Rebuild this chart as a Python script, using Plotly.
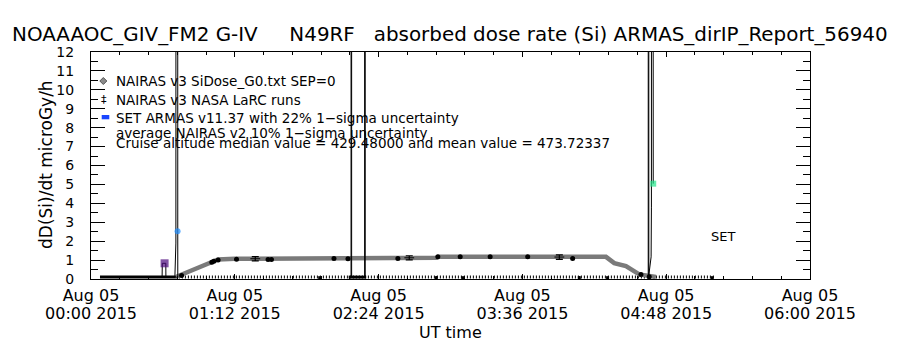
import plotly.graph_objects as go

# ---------------- data (x = minutes after 2015-08-05 00:00 UT) ----------------
x_tickvals = [0, 72, 144, 216, 288, 360]
x_date_labels = ["Aug 05", "Aug 05", "Aug 05", "Aug 05", "Aug 05", "Aug 05"]
x_time_labels = ["00:00 2015", "01:12 2015", "02:24 2015", "03:36 2015", "04:48 2015", "06:00 2015"]

# NAIRAS v3 SiDose_G0.txt SEP=0 (dense diamond band)
nairas_t = [42.75, 57.85, 63.65, 72.0, 119.5, 121.5, 128.0, 129.0, 153.0, 154.0, 173.0, 174.0,
            257.85, 262.0, 267.85, 274.5, 282.85]
nairas_v = [0.12, 0.76, 1.03, 1.07, 1.07, 1.12, 1.12, 1.07, 1.07, 1.12, 1.12, 1.17,
            1.17, 0.84, 0.68, 0.24, 0.11]

# NAIRAS v3 NASA LaRC runs (black points)
larc_t = [45.35, 60.5, 61.5, 63.65, 72.85, 88.65, 90.35, 121.65, 128.65, 153.65, 173.65,
          184.85, 199.85, 218.65, 241.15, 275.35, 279.5]
larc_v = [0.18, 0.88, 0.94, 1.0, 1.04, 1.03, 1.03, 1.08, 1.07, 1.08, 1.17,
          1.17, 1.17, 1.17, 1.08, 0.24, 0.12]

# average NAIRAS v2 with 10% 1-sigma uncertainty
avg_t = [82.25, 159.35, 234.5]
avg_v = [1.07, 1.12, 1.16]
avg_err = [0.11, 0.11, 0.12]

# near-zero record along the bottom
ground_t = [4.5, 42.5]
ground_v = [0.1, 0.1]
low_t = [42.5, 312.0]
low_v = [0.11, 0.11]
low_pts_t = [114.5, 172.85, 186.15, 244.5, 258.65, 311.0]
low_pts_v = [0.07, 0.07, 0.07, 0.07, 0.07, 0.07]
base_t = [129.0, 137.8]
base_v = [0.1, 0.1]

# SET ARMAS v11.37 (line, off-scale excursions)
armas_t = [35.6, 35.7, 37.45, 37.5, None,
           42.0, 42.05, 42.5, 43.05, 43.35, 43.45, None,
           130.2, 130.35, 130.5, None,
           137.0, 137.15, 137.3, None,
           279.0, 279.15, 279.3, 280.45, 280.6, 281.1, 281.5]
armas_v = [0.1, 0.83, 0.83, 0.1, None,
           0.1, 0.6, 1.9, 300, 2.52, 0.1, None,
           0.1, 300, 0.1, None,
           0.1, 300, 0.1, None,
           0.15, 300, 0.2, 1.17, 3.8, 300, 5.04]
armas_pt_t = [36.85, 43.35, 281.5]
armas_pt_v = [0.83, 2.52, 5.04]
armas_pt_color = ["#4b0a7d", "#1f8fff", "#22e58a"]
armas_pt_symbol = ["square", "circle", "square"]
armas_pt_size = [8, 6, 6]

FONT = "DejaVu Sans"

fig = go.Figure()

fig.add_trace(go.Scatter(x=ground_t, y=ground_v, mode="lines",
                         line=dict(color="black", width=3), hoverinfo="skip"))
fig.add_trace(go.Scatter(x=low_t, y=low_v, mode="lines",
                         line=dict(color="black", width=3, dash="1px,2px"), hoverinfo="skip"))
fig.add_trace(go.Scatter(x=base_t, y=base_v, mode="lines",
                         line=dict(color="black", width=3), hoverinfo="skip"))
fig.add_trace(go.Scatter(x=low_pts_t, y=low_pts_v, mode="markers",
                         marker=dict(color="black", size=3, symbol="square"), hoverinfo="skip"))

fig.add_trace(go.Scatter(x=nairas_t, y=nairas_v, mode="lines",
                         line=dict(color="#7a7a7a", width=4.5), name="NAIRAS v3 SiDose_G0"))
fig.add_trace(go.Scatter(x=larc_t, y=larc_v, mode="markers",
                         marker=dict(color="black", size=5, symbol="circle"), name="NAIRAS v3 NASA LaRC"))
fig.add_trace(go.Scatter(x=avg_t, y=avg_v, mode="markers",
                         marker=dict(color="black", size=7, symbol="line-ew",
                                     line=dict(color="black", width=1)),
                         error_y=dict(type="data", array=avg_err, visible=True,
                                      color="black", thickness=1.2, width=3.5),
                         name="average NAIRAS v2"))

fig.add_trace(go.Scatter(x=armas_t, y=armas_v, mode="lines",
                         line=dict(color="black", width=1), connectgaps=False, name="SET ARMAS"))
fig.add_trace(go.Scatter(x=armas_pt_t, y=armas_pt_v, mode="markers",
                         marker=dict(color=armas_pt_color, symbol=armas_pt_symbol,
                                     size=armas_pt_size, line=dict(width=0)),
                         name="SET ARMAS points"))

L, R, T, B = 91, 90, 52, 71
W, H = 900, 350
pw, ph = W - L - R, H - T - B


def px(xp):
    return (xp - L) / pw


def py(yp):
    return (H - B - yp) / ph


axis_common = dict(showgrid=False, zeroline=False, showline=True, linecolor="black",
                   linewidth=1, mirror="ticks", ticks="inside", tickcolor="black", tickwidth=1)

fig.update_layout(
    width=W, height=H, margin=dict(l=L, r=R, t=T, b=B),
    paper_bgcolor="white", plot_bgcolor="white", showlegend=False,
    font=dict(family=FONT, color="black"),
    xaxis=dict(range=[0, 360], tickmode="array", tickvals=x_tickvals, ticktext=x_date_labels,
               ticklen=5, tickfont=dict(size=16, family=FONT), ticklabelstandoff=2,
               minor=dict(tickmode="linear", tick0=0, dtick=14.4, ticklen=3, ticks="inside",
                          tickcolor="black"),
               **axis_common),
    xaxis2=dict(range=[0, 360], overlaying="x", anchor="y", side="bottom",
                tickmode="array", tickvals=x_tickvals, ticktext=x_time_labels,
                tickfont=dict(size=16, family=FONT), ticks="", showline=False,
                showgrid=False, zeroline=False, ticklabelstandoff=23),
    yaxis=dict(range=[0, 12], tickmode="linear", tick0=0, dtick=1, ticklen=14,
               tickfont=dict(size=14, family=FONT), ticklabelstandoff=13,
               minor=dict(tickmode="linear", tick0=0, dtick=0.5, ticklen=7, ticks="inside",
                          tickcolor="black"),
               **axis_common),
)

# invisible trace to attach xaxis2
fig.add_trace(go.Scatter(x=[0], y=[None], xaxis="x2", yaxis="y", mode="markers",
                         showlegend=False, hoverinfo="skip"))

title = ("NOAAAOC_GIV_FM2 G-IV\u00a0\u00a0\u00a0\u00a0\u00a0N49RF\u00a0\u00a0\u00a0absorbed dose rate "
         "(Si) ARMAS_dirIP_Report_56940")
LEG = 13.5
ann = [
    dict(text=title, x=px(450), y=py(34.5), font=dict(size=19.9)),
    dict(text="dD(Si)/dt microGy/h", x=px(46), y=py(165), textangle=-90, font=dict(size=17)),
    dict(text="UT time", x=px(450), y=py(332), font=dict(size=16)),
    dict(text="SET", x=px(723), y=py(236.7), font=dict(size=13)),
    dict(text="NAIRAS v3 SiDose_G0.txt SEP=0", x=px(114), y=py(80.5), xanchor="left", font=dict(size=LEG)),
    dict(text="NAIRAS v3 NASA LaRC runs", x=px(114), y=py(99.5), xanchor="left", font=dict(size=LEG)),
    dict(text="SET ARMAS v11.37 with 22% 1\u2212sigma uncertainty", x=px(114), y=py(118),
         xanchor="left", font=dict(size=LEG)),
    dict(text="average NAIRAS v2 10% 1\u2212sigma uncertainty", x=px(114), y=py(133),
         xanchor="left", font=dict(size=LEG)),
    dict(text="Cruise altitude median value = 429.48000 and mean value = 473.72337", x=px(114),
         y=py(142.5), xanchor="left", font=dict(size=LEG)),
    dict(text="\u2021", x=px(104), y=py(99.5), font=dict(size=11)),
]
for a in ann:
    a.setdefault("xanchor", "center")
    a.update(xref="paper", yref="paper", yanchor="middle", showarrow=False)
    fig.add_annotation(**a)

# legend glyphs
fig.add_shape(type="path", xref="paper", yref="paper",
              path=(f"M {px(103.3)} {py(77.5)} L {px(106.8)} {py(81)} L {px(103.3)} {py(84.5)} "
                    f"L {px(99.8)} {py(81)} Z"),
              fillcolor="#8c8c8c", line=dict(color="#555555", width=1))
fig.add_shape(type="rect", xref="paper", yref="paper",
              x0=px(101.7), x1=px(109.3), y0=py(119.3), y1=py(115),
              fillcolor="#1a46ff", line=dict(width=0))

fig.write_html("out.html")
